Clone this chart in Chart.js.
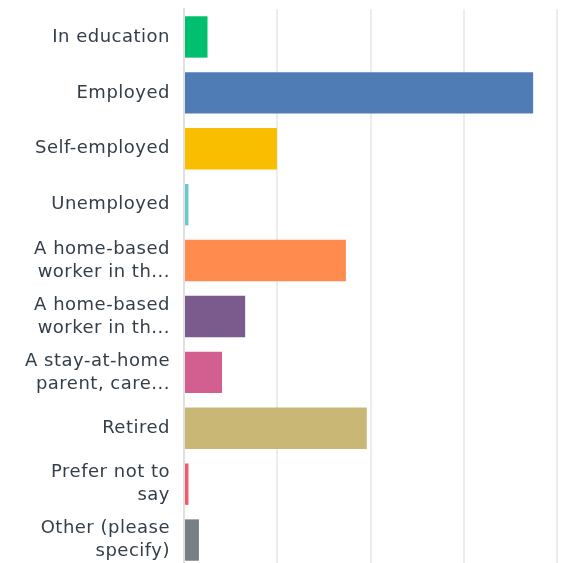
<!DOCTYPE html>
<html>
<head>
<meta charset="utf-8">
<script src="https://cdn.jsdelivr.net/npm/chart.js@4/dist/chart.umd.min.js"></script>
<style>
  html, body { margin: 0; padding: 0; background: #fff; overflow: hidden; height: 563px; }
  #wrap { width: 567px; height: 568px; }
</style>
</head>
<body>
<div id="wrap"><canvas id="statusChart"></canvas></div>
<script>
var categories = [
  "In education",
  "Employed",
  "Self-employed",
  "Unemployed",
  ["A home-based", "worker in th..."],
  ["A home-based", "worker in th..."],
  ["A stay-at-home", "parent, care..."],
  "Retired",
  ["Prefer not to", "say"],
  ["Other (please", "specify)"]
];
var values = [6.3, 93.6, 24.9, 1.2, 43.4, 16.4, 10.2, 49.0, 1.2, 4.0];
var barColors = ["#00BF6F", "#507CB6", "#F9BE00", "#6BC8CD", "#FF8B4F",
                 "#7B5B8E", "#D25F90", "#C9B775", "#F05B70", "#768086"];
var xTicks = [0, 25, 50, 75, 100];

// the labels in the original are a bit wider than DejaVu
var spacing = {
  id: 'spacing',
  beforeLayout: function(chart) { chart.ctx.letterSpacing = '0.5px'; },
  beforeDraw: function(chart) { chart.ctx.letterSpacing = '0.5px'; }
};

var ctx = document.getElementById('statusChart').getContext('2d');
var statusChart = new Chart(ctx, {
  type: 'bar',
  data: {
    labels: categories,
    datasets: [{
      data: values,
      backgroundColor: barColors,
      borderWidth: 0,
      categoryPercentage: 1,
      barPercentage: 0.74
    }]
  },
  plugins: [spacing],
  options: {
    indexAxis: 'y',
    responsive: true,
    maintainAspectRatio: false,
    animation: false,
    layout: { padding: { top: 9, right: 10, bottom: 0, left: 0 } },
    plugins: { legend: { display: false }, tooltip: { enabled: false } },
    scales: {
      x: {
        min: xTicks[0],
        max: xTicks[xTicks.length - 1],
        afterBuildTicks: function(axis) {
          axis.ticks = xTicks.map(function(v) { return { value: v }; });
        },
        afterFit: function(axis) {
          axis.height = 0;
          axis.paddingLeft = 0;
          axis.paddingRight = 0;
        },
        ticks: { display: false },
        grid: { color: '#ececec', lineWidth: 2, drawTicks: false },
        border: { display: false }
      },
      y: {
        afterFit: function(axis) {
          axis.width = 184;
          axis.paddingTop = 0;
          axis.paddingBottom = 0;
        },
        ticks: {
          color: '#333e48',
          padding: 14,
          font: { family: 'DejaVu Sans', size: 18, lineHeight: 1.28 }
        },
        grid: { display: false, drawTicks: false },
        border: { color: '#e0e0e0', width: 2 }
      }
    }
  }
});
</script>
</body>
</html>
